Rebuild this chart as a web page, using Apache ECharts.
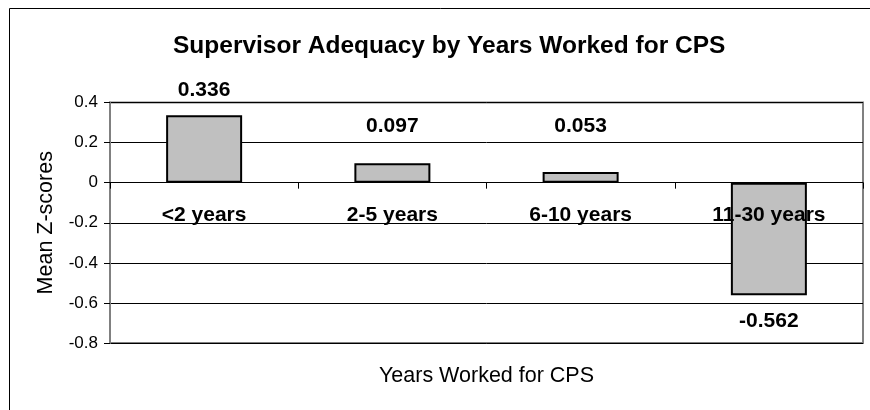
<!DOCTYPE html>
<html>
<head>
<meta charset="utf-8">
<script src="https://cdn.jsdelivr.net/npm/echarts@6/dist/echarts.min.js"></script>
<style>html,body{margin:0;padding:0;background:#fff;}#c{width:870px;height:410px;}</style>
</head>
<body>
<div id="c"></div>
<script>
var titleText = 'Supervisor Adequacy by Years Worked for CPS';
var categories = ['<2 years', '2-5 years', '6-10 years', '11-30 years'];
var values = [0.336, 0.097, 0.053, -0.562];
var yTicks = [-0.8, -0.6, -0.4, -0.2, 0, 0.2, 0.4];
var xName = 'Years Worked for CPS';
var yName = 'Mean Z-scores';

var labelDist = [15, 27, 35, 15];
var chart = echarts.init(document.getElementById('c'), null, {renderer: 'canvas'});
var font = 'Arial, "Liberation Sans", sans-serif';
chart.setOption({
  animation: false,
  backgroundColor: '#fff',
  graphic: [{
    type: 'rect', shape: {x: 9.5, y: 8.5, width: 900, height: 500},
    style: {fill: 'none', stroke: '#000', lineWidth: 1}, silent: true, z: -1
  }],
  title: {
    text: titleText, left: 168, top: 29,
    textStyle: {fontFamily: font, fontSize: 24.5, fontWeight: 'bold', color: '#000'}
  },
  grid: {left: 110, top: 102.5, width: 753, height: 240.5, show: true, borderColor: '#808080', borderWidth: 2, backgroundColor: '#fff', containLabel: false, outerBoundsMode: 'none'},
  xAxis: {
    type: 'category', data: categories,
    name: xName, nameLocation: 'middle', nameGap: 22,
    nameTextStyle: {fontFamily: font, fontSize: 21.5, color: '#000'},
    axisLine: {onZero: true, lineStyle: {color: '#000', width: 1}},
    axisTick: {show: true, length: 6, lineStyle: {color: '#000'}},
    axisLabel: {fontFamily: font, fontSize: 21, fontWeight: 'bold', color: '#000', margin: -138},
    z: 5
  },
  yAxis: {
    type: 'value', min: -0.8, max: 0.4, interval: 0.2,
    name: yName, nameLocation: 'middle', nameGap: 53,
    nameTextStyle: {fontFamily: font, fontSize: 21.5, color: '#000'},
    axisLine: {show: true, lineStyle: {color: '#808080', width: 2}},
    axisTick: {show: true, length: 6, lineStyle: {color: '#000'}},
    axisLabel: {fontFamily: font, fontSize: 17, color: '#000', margin: 12,
      formatter: function (v) { var r = Math.round(v * 10) / 10; return yTicks.indexOf(r) >= 0 ? String(r) : ''; }},
    splitLine: {show: true, lineStyle: {color: '#000', width: 1}}
  },
  series: [{
    type: 'bar', barWidth: 76,
    data: values.map(function (v, i) {
      return {value: v, label: {distance: labelDist[i]}};
    }),
    itemStyle: {color: '#C0C0C0', borderColor: '#000', borderWidth: 2},
    label: {
      show: true, position: 'outside',
      fontFamily: font, fontSize: 21, fontWeight: 'bold', color: '#000',
      formatter: function (p) { return p.value.toFixed(3); }
    },
    z: 3
  }]
});
</script>
</body>
</html>
